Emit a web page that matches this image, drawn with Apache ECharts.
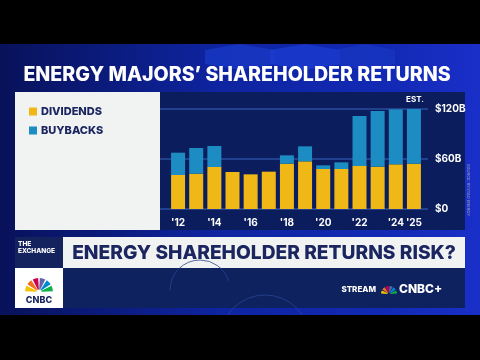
<!DOCTYPE html>
<html><head><meta charset="utf-8">
<script src="https://cdn.jsdelivr.net/npm/echarts@6/dist/echarts.min.js"></script>
<style>html,body{margin:0;padding:0;background:#000}#c{width:480px;height:360px}</style>
</head><body><div id="c"></div>
<script>
const years = ['2012','2013','2014','2015','2016','2017','2018','2019','2020','2021','2022','2023','2024','2025'];
const xTickLabels = ["'12","","'14","","'16","","'18","","'20","","'22","","'24","'25"];
const dividends = [40.8, 42.4, 50.4, 44.4, 41.6, 44.8, 54.4, 57.2, 48, 48, 51.6, 50.8, 53.6, 54.4];
const buybacks = [26.8, 30.8, 25.2, 0, 0, 0, 10, 18, 4.4, 8, 60, 66.8, 66, 65.6];
const yTicks = [0, 60, 120];
const yTickLabels = ['$0', '$60B', '$120B'];

const chart = echarts.init(document.getElementById('c'), null, {renderer: 'canvas'});
const F = 'Inter, "Open Sans", sans-serif';

function plus(x, y, s, w) {
  return [
    {type:'rect', shape:{x:x-s, y:y-w/2, width:2*s, height:w}, style:{fill:'#f07a1e'}},
    {type:'rect', shape:{x:x-w/2, y:y-s, width:w, height:2*s}, style:{fill:'#f07a1e'}}
  ];
}
function peacock(cx, cy, r, z) {
  const cols = ['#f5c400','#f37021','#cc004c','#6460aa','#0089d0','#0db14b'];
  const out = [];
  for (let i = 0; i < 6; i++) {
    const a0 = Math.PI + i * Math.PI / 6, a1 = a0 + Math.PI / 6;
    out.push({type:'sector', z: z||5, shape:{cx:cx, cy:cy, r0:r*0.18, r:r, startAngle:a0 + 0.06, endAngle:a1 - 0.06}, style:{fill:cols[i]}});
  }
  return out;
}

const graphics = [
  {type:'rect', z:-10, shape:{x:0,y:0,width:480,height:360}, style:{fill:{type:'linear',x:0,y:0,x2:1,y2:0,colorStops:[{offset:0,color:'#08125a'},{offset:0.45,color:'#0e24a0'},{offset:0.8,color:'#1229b4'},{offset:1,color:'#1a2fc8'}]}}},
  {type:'polygon', z:-9, shape:{points:[[205,50],[240,44],[275,50],[275,64],[240,70],[205,64]]}, style:{fill:'#1838c4', opacity:0.8}},
  {type:'polygon', z:-9, shape:{points:[[270,50],[305,44],[340,50],[340,64],[305,70],[270,64]]}, style:{fill:'#1a3cd0', opacity:0.8}},
  {type:'polygon', z:-9, shape:{points:[[335,50],[365,44],[395,50],[395,64],[365,70],[335,64]]}, style:{fill:'#1838c4', opacity:0.7}},
  {type:'rect', z:20, shape:{x:0,y:0,width:480,height:44}, style:{fill:'#000'}},
  {type:'rect', z:20, shape:{x:0,y:315,width:480,height:45}, style:{fill:'#000'}},
  {type:'text', z:10, x:237, y:75, style:{text:"ENERGY MAJORS\u2019 SHAREHOLDER RETURNS", fill:'#ffffff', font:'800 19.6px ' + F, textAlign:'center', textVerticalAlign:'middle'}},
  {type:'rect', z:-5, shape:{x:15,y:92,width:145,height:138}, style:{fill:'#f1f2f2'}},
  {type:'rect', z:-5, shape:{x:160,y:92,width:305,height:138}, style:{fill:'#0b1d5c'}},
  {type:'text', z:10, x:415, y:100, style:{text:'EST.', fill:'#ffffff', font:'700 8px ' + F, textAlign:'center', textVerticalAlign:'middle'}},
  {type:'text', z:10, x:468, y:190, rotation:-Math.PI/2, style:{text:'SOURCE: RYSTAD ENERGY', fill:'#7c88b8', font:'600 4px ' + F, textAlign:'center', textVerticalAlign:'middle'}},
  {type:'rect', z:5, shape:{x:15,y:237,width:48,height:31}, style:{fill:'#14235e'}},
  {type:'text', z:6, x:18, y:248, style:{text:'THE\nEXCHANGE', fill:'#ffffff', font:'800 6.5px ' + F, lineHeight:7, textVerticalAlign:'middle'}},
  {type:'rect', z:5, shape:{x:63,y:237,width:402,height:31}, style:{fill:'#f1f2f2'}},
  {type:'text', z:6, x:264, y:253, style:{text:'ENERGY SHAREHOLDER RETURNS RISK?', fill:'#1b2660', font:'800 19.2px ' + F, textAlign:'center', textVerticalAlign:'middle'}},
  {type:'rect', z:5, shape:{x:15,y:268,width:48,height:40}, style:{fill:'#ffffff'}},
  {type:'rect', z:5, shape:{x:63,y:268,width:402,height:40}, style:{fill:'#0e2260'}},
  {type:'circle', z:5, shape:{cx:265,cy:340,r:45}, style:{fill:'none', stroke:'#2a4490', lineWidth:0.8}},
  {type:'arc', z:5, shape:{cx:200,cy:290,r:30,startAngle:Math.PI,endAngle:Math.PI*1.9}, style:{fill:'none', stroke:'#2a4490', lineWidth:0.8}},
  {type:'text', z:6, x:39, y:300, style:{text:'CNBC', fill:'#1b2660', font:'800 9px ' + F, textAlign:'center', textVerticalAlign:'middle'}},
  {type:'text', z:6, x:376, y:290, style:{text:'STREAM', fill:'#ffffff', font:'800 8px ' + F, textAlign:'right', textVerticalAlign:'middle'}},
  {type:'text', z:6, x:399, y:289, style:{text:'CNBC+', fill:'#ffffff', font:'800 12px ' + F, textVerticalAlign:'middle'}}
].concat(peacock(39, 292, 14, 6), peacock(389, 294, 8, 6), plus(101, 294, 6, 3.5), plus(84, 285, 2.5, 1.5), plus(120, 284, 3.5, 2), plus(147, 297, 3, 1.8));

chart.setOption({
  animation: false,
  backgroundColor: '#000',
  graphic: graphics,
  legend: {
    orient: 'vertical', left: 24, top: 101, itemWidth: 8, itemHeight: 8, itemGap: 8,
    icon: 'rect',
    textStyle: {color: '#1b2660', fontFamily: F, fontWeight: 800, fontSize: 11, padding: [0,0,0,-1]},
    data: ['DIVIDENDS', 'BUYBACKS']
  },
  grid: [
    {left: 169, right: 57, top: 109, bottom: 151},
    {left: 160, right: 52, top: 109, bottom: 151}
  ],
  xAxis: [
    {type: 'category', gridIndex: 0, data: years,
      axisLine: {show: false}, axisTick: {show: false},
      axisLabel: {interval: 0, margin: 9, color: '#ffffff', fontFamily: F, fontWeight: 700, fontSize: 10,
        formatter: (v, i) => xTickLabels[i]}},
    {type: 'value', gridIndex: 1, show: false, min: 0, max: 1}
  ],
  yAxis: [
    {type: 'value', gridIndex: 0, min: 0, max: 120, interval: 60, show: false},
    {type: 'value', gridIndex: 1, min: 0, max: 120, interval: 60, position: 'right',
      axisLine: {show: false}, axisTick: {show: false},
      splitLine: {show: true, lineStyle: {color: '#21408e', width: 2}},
      axisLabel: {margin: 7, color: '#ffffff', fontFamily: F, fontWeight: 700, fontSize: 10,
        formatter: v => yTickLabels[yTicks.indexOf(v)]}}
  ],
  series: [
    {name: 'DIVIDENDS', type: 'bar', stack: 'r', xAxisIndex: 0, yAxisIndex: 0, barWidth: 14, data: dividends,
      itemStyle: {color: '#efb817'}},
    {name: 'BUYBACKS', type: 'bar', stack: 'r', xAxisIndex: 0, yAxisIndex: 0, barWidth: 14, data: buybacks,
      itemStyle: {color: '#1c8cc2'}}
  ]
});
</script></body></html>
